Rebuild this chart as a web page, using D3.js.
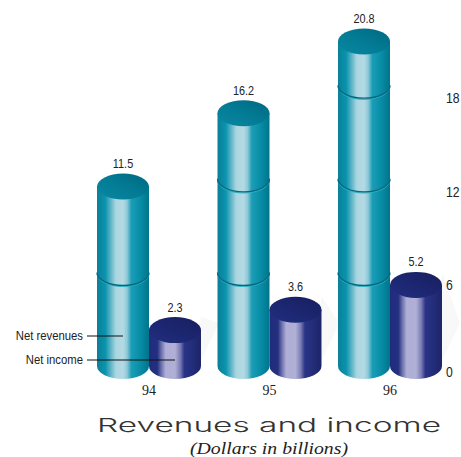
<!DOCTYPE html>
<html>
<head>
<meta charset="utf-8">
<script src="https://cdn.jsdelivr.net/npm/d3@7"></script>
<style>
  html, body { margin: 0; padding: 0; background: #fff; }
</style>
</head>
<body>
<div id="chart"></div>
<script>
// Values (dollars in billions)
const years = ["94", "95", "96"];
const seriesNames = ["Net revenues", "Net income"];
const netRevenues = [11.5, 16.2, 20.8];
const netIncome = [2.3, 3.6, 5.2];
const yTicks = [0, 6, 12, 18];

const width = 461, height = 457;
const ry = 13;
const narrow = 0.87;   // squeeze for the condensed labels

const svg = d3.select("#chart").append("svg")
    .attr("width", width)
    .attr("height", height)
    .style("display", "block");

// x scales: one band per year, two cylinders in each
const x0 = d3.scaleBand().domain(years).range([88.75, 450.25]).paddingInner(0.137).paddingOuter(0.0685);
const x1 = d3.scaleBand().domain(seriesNames).range([0, x0.bandwidth()]);

// y scale gives the centre of the ellipse at a value
const y = d3.scaleLinear().domain([0, 18]).range([366, 85.2]);

const defs = svg.append("defs");

function gradient(id, stops, diagonal) {
    const g = defs.append("linearGradient").attr("id", id);
    if (diagonal) g.attr("x1", 0).attr("y1", 1).attr("x2", 1).attr("y2", 0);
    stops.forEach(s => g.append("stop").attr("offset", s[0]).attr("stop-color", s[1]));
}
gradient("tealSide", [[0, "#0a7f98"], [0.16, "#0a94ae"], [0.26, "#5cb3c6"], [0.36, "#aad6e0"],
    [0.5, "#b4dae4"], [0.58, "#8cc8d6"], [0.66, "#1a9db6"], [0.85, "#078aa4"], [1, "#00748a"]]);
gradient("navySide", [[0, "#1f2c7c"], [0.16, "#242f80"], [0.24, "#6e72ad"], [0.32, "#aeaed6"],
    [0.5, "#b0b0d6"], [0.6, "#7a7cb4"], [0.68, "#2a3488"], [1, "#1c2568"]]);
gradient("tealTop", [[0, "#0a88a2"], [0.5, "#037b95"], [1, "#006880"]], true);
gradient("navyTop", [[0, "#222e80"], [0.5, "#1c2670"], [1, "#181f5e"]], true);

const colors = {
    "Net revenues": { side: "url(#tealSide)", top: "url(#tealTop)" },
    "Net income": { side: "url(#navySide)", top: "url(#navyTop)" }
};

const data = years.map((yr, i) => [
    { year: yr, name: seriesNames[0], value: netRevenues[i] },
    { year: yr, name: seriesNames[1], value: netIncome[i] }
]);

const w = x1.bandwidth(), rx = w / 2;

// faint shadow going up to the right behind each short cylinder
const shadows = svg.append("g");
data.flat().filter(d => d.name === seriesNames[1]).forEach(d => {
    const x = x0(d.year) + x1(d.name);
    shadows.append("path")
        .attr("fill", "#f8f8f8")
        .attr("d", `M${x + w - 8},${y(0) + ry - 2} L${x + w + 18},${y(0) - ry - 30}
                    L${x + w},${y(d.value) - ry} Z`);
});

const groups = svg.append("g").selectAll("g")
    .data(data)
    .join("g")
    .attr("transform", d => `translate(${x0(d[0].year)},0)`);

const cyl = groups.selectAll("g")
    .data(d => d)
    .join("g")
    .attr("transform", d => `translate(${x1(d.name)},0)`);

// body of the cylinder
cyl.append("path")
    .attr("fill", d => colors[d.name].side)
    .attr("d", d => `M0,${y(d.value)} V${y(0)} A${rx},${ry} 0 0 0 ${w},${y(0)} V${y(d.value)} Z`);

// top ellipse
cyl.append("ellipse")
    .attr("cx", rx)
    .attr("cy", d => y(d.value))
    .attr("rx", rx)
    .attr("ry", ry)
    .attr("fill", d => colors[d.name].top);

// seams at each 6 on the tall cylinders
const seams = cyl.filter(d => d.name === seriesNames[0]).selectAll("g")
    .data(d => yTicks.filter(t => t > 0 && t < d.value))
    .join("g");
seams.append("path")
    .attr("fill", "none")
    .attr("stroke", "#2fb0c2")
    .attr("stroke-width", 1)
    .attr("d", t => `M0,${y(t) + 1.2} A${rx},${ry} 0 0 0 ${w},${y(t) + 1.2}`);
seams.append("path")
    .attr("fill", "none")
    .attr("stroke", "#04697f")
    .attr("stroke-width", 1.3)
    .attr("d", t => `M0,${y(t)} A${rx},${ry} 0 0 0 ${w},${y(t)}`);

// value labels
cyl.append("text")
    .attr("transform", d => `translate(${rx},${y(d.value) - ry - 5.5}) scale(${narrow},1)`)
    .attr("text-anchor", "middle")
    .attr("font-family", "'Liberation Sans'")
    .attr("font-size", "12.5px")
    .attr("fill", "#222")
    .text(d => d.value.toFixed(1));

// year labels
svg.append("g").selectAll("text")
    .data(years)
    .join("text")
    .attr("x", d => x0(d) + x0.bandwidth() / 2)
    .attr("y", 395)
    .attr("text-anchor", "middle")
    .attr("font-family", "'Liberation Serif'")
    .attr("font-size", "14px")
    .attr("fill", "#222")
    .text(d => d);

// right axis, no line or tick marks
const axis = svg.append("g")
    .attr("transform", "translate(446,0)")
    .call(d3.axisRight(d3.scaleLinear().domain([0, 18]).range([y(0) + ry, y(18) + ry]))
        .tickValues(yTicks).tickSize(0).tickPadding(0));
axis.select(".domain").remove();
axis.selectAll("text")
    .attr("font-family", "'Liberation Sans'")
    .attr("font-size", "14px")
    .attr("fill", "#222")
    .attr("transform", `scale(${narrow},1)`)
    .attr("dy", d => d === 0 ? "-0.15em" : "0.32em");

// legend callouts
const legendY = { "Net revenues": 336, "Net income": 360 };
data[0].forEach(d => {
    const cx = x0(d.year) + x1(d.name) + rx;
    svg.append("line")
        .attr("x1", 87).attr("x2", cx)
        .attr("y1", legendY[d.name]).attr("y2", legendY[d.name])
        .attr("stroke", "#111")
        .attr("stroke-width", 1);
    svg.append("text")
        .attr("transform", `translate(83,${legendY[d.name] + 4}) scale(${narrow},1)`)
        .attr("text-anchor", "end")
        .attr("font-family", "'Liberation Sans'")
        .attr("font-size", "13px")
        .attr("fill", "#222")
        .text(d.name);
});

// titles
svg.append("text")
    .attr("x", 97)
    .attr("y", 432)
    .attr("textLength", 344)
    .attr("lengthAdjust", "spacingAndGlyphs")
    .attr("font-family", "Inter")
    .attr("font-weight", 300)
    .attr("font-size", "19px")
    .attr("fill", "#333")
    .text("Revenues and income");

svg.append("text")
    .attr("x", 190)
    .attr("y", 454)
    .attr("textLength", 158)
    .attr("lengthAdjust", "spacingAndGlyphs")
    .attr("font-family", "'Liberation Serif'")
    .attr("font-style", "italic")
    .attr("font-size", "17.5px")
    .attr("fill", "#222")
    .text("(Dollars in billions)");
</script>
</body>
</html>
